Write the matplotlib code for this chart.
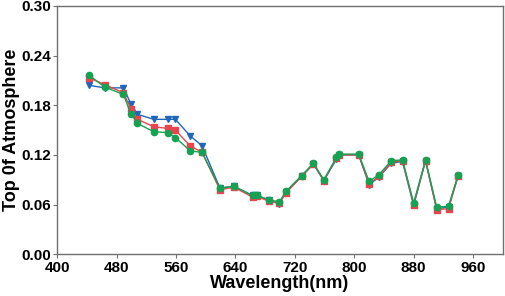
import matplotlib
matplotlib.use("Agg")
import matplotlib.pyplot as plt

plt.rcParams['font.family'] = ['Liberation Sans', 'DejaVu Sans']

wavelength = [443, 464, 489, 499, 508, 530, 549, 559, 579, 595, 619, 638, 663, 669,
              685, 699, 708, 729, 745, 759, 776, 780, 806, 820, 833, 850, 865, 880,
              896, 911, 927, 940]

blue = [0.204, 0.201, 0.201, 0.182, 0.169, 0.163, 0.163, 0.163, 0.143, 0.131, 0.080,
        0.082, 0.071, 0.071, 0.065, 0.061, 0.075, 0.094, 0.109, 0.089, 0.115, 0.120,
        0.120, 0.084, 0.093, 0.110, 0.112, 0.059, 0.113, 0.055, 0.057, 0.095]
red = [0.213, 0.205, 0.195, 0.176, 0.163, 0.154, 0.152, 0.150, 0.131, 0.123, 0.078,
       0.081, 0.069, 0.070, 0.064, 0.062, 0.074, 0.094, 0.109, 0.089, 0.116, 0.120,
       0.120, 0.085, 0.094, 0.111, 0.113, 0.060, 0.113, 0.054, 0.055, 0.095]
green = [0.216, 0.202, 0.193, 0.170, 0.158, 0.148, 0.147, 0.141, 0.125, 0.123, 0.080,
         0.082, 0.071, 0.071, 0.066, 0.063, 0.076, 0.095, 0.110, 0.090, 0.117, 0.121,
         0.121, 0.088, 0.096, 0.113, 0.114, 0.062, 0.114, 0.057, 0.058, 0.096]

xticks = [400, 480, 560, 640, 720, 800, 880, 960]
yticks = [0.00, 0.06, 0.12, 0.18, 0.24, 0.30]

fig = plt.figure(figsize=(5.05, 2.96), dpi=100)
ax = fig.add_axes([0.1135, 0.141, 0.882, 0.839])

ax.plot(wavelength, blue, '-v', color='#2166b8', markersize=4.5, linewidth=1)
ax.plot(wavelength, red, '-s', color='#e8454f', markersize=4.5, linewidth=1)
ax.plot(wavelength, green, '-o', color='#14a352', markersize=4.5, linewidth=1)

ax.set_xlim(400, 1000)
ax.set_ylim(0, 0.30)
ax.set_xticks(xticks)
ax.set_yticks(yticks)
ax.set_yticklabels([f'{v:.2f}' for v in yticks])

for s in ax.spines.values():
    s.set_color('#707070')
    s.set_linewidth(1)
ax.tick_params(colors='#707070', labelcolor='black', length=3, labelsize=11, pad=1.5)
for lab in ax.get_xticklabels() + ax.get_yticklabels():
    lab.set_fontweight('bold')

ax.set_xlabel('Wavelength(nm)', fontsize=13, fontweight='bold', labelpad=0)
ax.set_ylabel('Top 0f Atmosphere', fontsize=13, fontweight='bold', labelpad=1)

fig.savefig('out.png', dpi=100)
